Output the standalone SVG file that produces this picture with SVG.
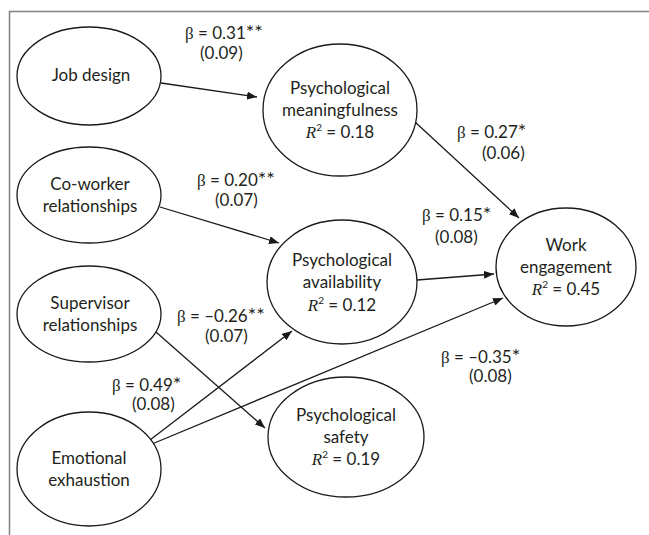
<svg xmlns="http://www.w3.org/2000/svg" width="649" height="535" viewBox="0 0 649 535">
<defs>
<style>
.n{fill:#fff;stroke:#1a1a1a;stroke-width:1.3}
.t{font-family:Lato,"Liberation Sans",sans-serif;font-size:17px;fill:#231f20;text-anchor:middle}
.l{font-family:Lato,"Liberation Sans",sans-serif;font-size:17px;fill:#231f20}
.b{font-family:"Liberation Serif",serif}
.a{font-size:20px}
.r{font-family:"Liberation Serif",serif;font-style:italic}
.e{stroke:#1a1a1a;stroke-width:1.3;fill:none;marker-end:url(#ah)}
</style>
<marker id="ah" markerWidth="10" markerHeight="8" refX="10" refY="4" orient="auto" markerUnits="userSpaceOnUse">
<path d="M0,0 L10,4 L0,8 z" fill="#1a1a1a"/>
</marker>
</defs>
<rect width="649" height="535" fill="#fff"/>
<path d="M9.5,535 V11.5 H649" fill="none" stroke="#808080" stroke-width="1.5"/>

<g id="connectors">
<line class="e" x1="161" y1="83" x2="257" y2="97"/>
<line class="e" x1="415" y1="122" x2="519" y2="218"/>
<line class="e" x1="160" y1="207" x2="279" y2="243"/>
<line class="e" x1="156" y1="332" x2="265" y2="428"/>
<line class="e" x1="150" y1="440" x2="292" y2="331"/>
<line class="e" x1="152" y1="444" x2="503" y2="298"/>
<line class="e" x1="417" y1="280" x2="494" y2="274"/>
</g>

<g id="labels">
<text class="l" x="185" y="39"><tspan class="b">β</tspan> = 0.31<tspan class="a">**</tspan></text>
<text class="l" x="200" y="59">(0.09)</text>
<text class="l" x="457" y="138"><tspan class="b">β</tspan> = 0.27<tspan class="a">*</tspan></text>
<text class="l" x="482" y="159">(0.06)</text>
<text class="l" x="197" y="186"><tspan class="b">β</tspan> = 0.20<tspan class="a">**</tspan></text>
<text class="l" x="215" y="206">(0.07)</text>
<text class="l" x="422" y="221"><tspan class="b">β</tspan> = 0.15<tspan class="a">*</tspan></text>
<text class="l" x="435" y="243">(0.08)</text>
<text class="l" x="177" y="322"><tspan class="b">β</tspan> = –0.26<tspan class="a">**</tspan></text>
<text class="l" x="205" y="342">(0.07)</text>
<text class="l" x="112" y="391"><tspan class="b">β</tspan> = 0.49<tspan class="a">*</tspan></text>
<text class="l" x="132" y="410">(0.08)</text>
<text class="l" x="441" y="363"><tspan class="b">β</tspan> = –0.35<tspan class="a">*</tspan></text>
<text class="l" x="469" y="382">(0.08)</text>
</g>

<g id="job-design">
<ellipse class="n" cx="89" cy="76" rx="72" ry="49"/>
<text class="t" x="91" y="81">Job design</text>
</g>
<g id="co-worker">
<ellipse class="n" cx="89" cy="195" rx="72" ry="48"/>
<text class="t" x="90" y="190">Co-worker</text>
<text class="t" x="90" y="212">relationships</text>
</g>
<g id="supervisor">
<ellipse class="n" cx="89" cy="314" rx="72" ry="48"/>
<text class="t" x="90" y="309">Supervisor</text>
<text class="t" x="90" y="331">relationships</text>
</g>
<g id="emotional-exhaustion">
<ellipse class="n" cx="89" cy="469" rx="72" ry="57"/>
<text class="t" x="89" y="464">Emotional</text>
<text class="t" x="89" y="486">exhaustion</text>
</g>
<g id="meaningfulness">
<ellipse class="n" cx="340" cy="110" rx="77" ry="66"/>
<text class="t" x="340" y="94">Psychological</text>
<text class="t" x="340" y="116">meaningfulness</text>
<text class="t" x="340" y="138"><tspan class="r">R</tspan><tspan font-size="10" dy="-7">2</tspan><tspan dy="7"> = 0.18</tspan></text>
</g>
<g id="availability">
<ellipse class="n" cx="342" cy="282" rx="75" ry="62"/>
<text class="t" x="342" y="266">Psychological</text>
<text class="t" x="342" y="288">availability</text>
<text class="t" x="342" y="311"><tspan class="r">R</tspan><tspan font-size="10" dy="-7">2</tspan><tspan dy="7"> = 0.12</tspan></text>
</g>
<g id="safety">
<ellipse class="n" cx="346" cy="437" rx="78" ry="60"/>
<text class="t" x="346" y="421">Psychological</text>
<text class="t" x="346" y="443">safety</text>
<text class="t" x="346" y="465"><tspan class="r">R</tspan><tspan font-size="10" dy="-7">2</tspan><tspan dy="7"> = 0.19</tspan></text>
</g>
<g id="work-engagement">
<ellipse class="n" cx="566" cy="267" rx="70" ry="59"/>
<text class="t" x="566" y="251">Work</text>
<text class="t" x="566" y="273">engagement</text>
<text class="t" x="566" y="295"><tspan class="r">R</tspan><tspan font-size="10" dy="-7">2</tspan><tspan dy="7"> = 0.45</tspan></text>
</g>
</svg>
